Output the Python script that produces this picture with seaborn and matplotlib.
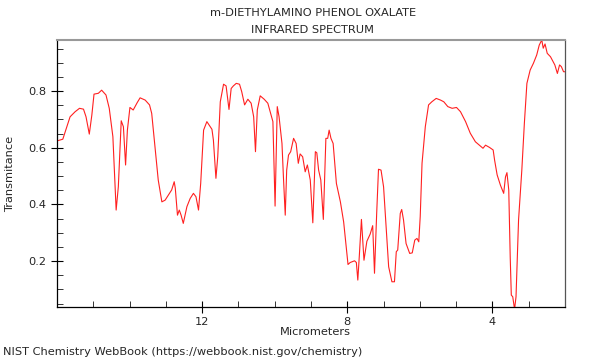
import seaborn as sns
import matplotlib.pyplot as plt
import pandas as pd

# IR spectrum values (micrometers, transmittance)
micrometers = [16.00, 15.84, 15.64, 15.50, 15.38, 15.27, 15.20, 15.11, 15.04, 14.98,
               14.86, 14.77, 14.65, 14.56, 14.46, 14.37, 14.31, 14.23, 14.17, 14.11,
               14.06, 13.99, 13.90, 13.79, 13.71, 13.57, 13.45, 13.39, 13.30, 13.21,
               13.11, 13.02, 12.93, 12.84, 12.77, 12.74, 12.68, 12.63, 12.58, 12.52,
               12.42, 12.33, 12.24, 12.17, 12.10, 12.04, 11.96, 11.87, 11.73, 11.69,
               11.62, 11.57, 11.50, 11.41, 11.34, 11.26, 11.20, 11.14, 11.06, 10.97,
               10.91, 10.83, 10.74, 10.65, 10.58, 10.53, 10.48, 10.40, 10.29, 10.19,
               10.10, 10.05, 9.99, 9.93, 9.88, 9.80, 9.76, 9.71, 9.67, 9.62,
               9.56, 9.48, 9.41, 9.35, 9.30, 9.23, 9.16, 9.10, 9.02, 8.95,
               8.88, 8.84, 8.79, 8.73, 8.66, 8.59, 8.54, 8.50, 8.45, 8.39,
               8.30, 8.19, 8.10, 8.04, 7.98, 7.92, 7.80, 7.75, 7.71, 7.67,
               7.61, 7.54, 7.46, 7.37, 7.30, 7.25, 7.19, 7.14, 7.07, 7.00,
               6.93, 6.86, 6.77, 6.70, 6.65, 6.61, 6.54, 6.50, 6.45, 6.38,
               6.28, 6.21, 6.14, 6.08, 6.03, 5.99, 5.94, 5.85, 5.76, 5.67,
               5.55, 5.43, 5.34, 5.23, 5.11, 4.99, 4.88, 4.74, 4.61, 4.47,
               4.33, 4.26, 4.19, 4.08, 3.98, 3.94, 3.87, 3.78, 3.69, 3.64,
               3.60, 3.55, 3.51, 3.48, 3.44, 3.39, 3.35, 3.28, 3.19, 3.12,
               3.05, 2.96, 2.87, 2.78, 2.71, 2.64, 2.60, 2.55, 2.49, 2.40,
               2.28, 2.21, 2.15, 2.10, 2.04, 2.00]
transmittance = [0.624, 0.630, 0.709, 0.727, 0.739, 0.736, 0.709, 0.648, 0.715, 0.789,
                 0.792, 0.803, 0.786, 0.739, 0.639, 0.380, 0.462, 0.695, 0.674, 0.539,
                 0.662, 0.742, 0.733, 0.759, 0.776, 0.768, 0.751, 0.721, 0.603, 0.486,
                 0.409, 0.415, 0.433, 0.451, 0.480, 0.457, 0.362, 0.380, 0.362, 0.333,
                 0.392, 0.421, 0.439, 0.427, 0.380, 0.474, 0.662, 0.692, 0.665, 0.627,
                 0.492, 0.568, 0.762, 0.824, 0.818, 0.735, 0.809, 0.818, 0.827, 0.824,
                 0.798, 0.751, 0.771, 0.757, 0.709, 0.586, 0.733, 0.783, 0.771, 0.757,
                 0.715, 0.692, 0.394, 0.745, 0.709, 0.615, 0.497, 0.362, 0.521, 0.574,
                 0.586, 0.633, 0.615, 0.545, 0.578, 0.568, 0.515, 0.539, 0.486, 0.335,
                 0.586, 0.582, 0.521, 0.486, 0.347, 0.633, 0.633, 0.662, 0.633, 0.615,
                 0.474, 0.409, 0.338, 0.262, 0.188, 0.195, 0.201, 0.195, 0.133, 0.215,
                 0.347, 0.203, 0.270, 0.295, 0.325, 0.157, 0.368, 0.524, 0.521, 0.462,
                 0.321, 0.180, 0.127, 0.127, 0.233, 0.239, 0.368, 0.382, 0.345, 0.262,
                 0.227, 0.229, 0.274, 0.280, 0.268, 0.357, 0.545, 0.674, 0.751, 0.762,
                 0.774, 0.768, 0.762, 0.745, 0.739, 0.742, 0.727, 0.692, 0.651, 0.621,
                 0.606, 0.598, 0.609, 0.601, 0.592, 0.556, 0.504, 0.468, 0.439, 0.497,
                 0.512, 0.451, 0.215, 0.080, 0.074, 0.030, 0.074, 0.345, 0.521, 0.686,
                 0.827, 0.874, 0.898, 0.927, 0.962, 0.980, 0.951, 0.966, 0.933, 0.921,
                 0.892, 0.862, 0.892, 0.886, 0.868, 0.868]

x_ticks = [4, 8, 12]
y_ticks = [0.2, 0.4, 0.6, 0.8]

df = pd.DataFrame({"um": micrometers, "T": transmittance})

sns.set_style("ticks")
plt.rcParams["font.family"] = ["DejaVu Sans"]

fig = plt.figure(figsize=(6, 3.6), dpi=100)
ax = fig.add_axes([57 / 600, 1 - 307 / 360, 508 / 600, 267 / 360])

sns.lineplot(data=df, x="um", y="T", sort=False, estimator=None,
             color="#ff2020", linewidth=0.8, ax=ax)

ax.set_xlim(16, 2)
ax.set_ylim(0.038, 0.98)
ax.set_xticks(x_ticks)
ax.set_xticks(range(3, 16), minor=True)
ax.set_yticks(y_ticks)
ax.set_yticks([i * 0.05 for i in range(1, 20)], minor=True)
ax.set_yticklabels([str(v) for v in y_ticks])
ax.tick_params(which="major", direction="inout", length=8, width=0.8, labelsize=8.2, color="black")
ax.tick_params(which="minor", direction="in", length=4, width=0.7, color="#333333")
ax.set_xlabel("")
ax.set_ylabel("")

for side in ["left", "bottom"]:
    ax.spines[side].set_color("black")
    ax.spines[side].set_linewidth(0.9)
ax.spines["top"].set_color("#999999")
ax.spines["top"].set_linewidth(1.5)
ax.spines["right"].set_color("#555555")
ax.spines["right"].set_linewidth(0.9)

fig.text(313 / 600, 1 - 13 / 360, "m-DIETHYLAMINO PHENOL OXALATE", ha="center", va="center", fontsize=8.2)
fig.text(313 / 600, 1 - 30 / 360, "INFRARED SPECTRUM", ha="center", va="center", fontsize=8.2)
fig.text(315 / 600, 1 - 332 / 360, "Micrometers", ha="center", va="center", fontsize=8.2)
fig.text(10 / 600, 1 - 174 / 360, "Transmitance", ha="center", va="center", rotation=90, fontsize=8.2)
fig.text(3 / 600, 1 - 352 / 360, "NIST Chemistry WebBook (https://webbook.nist.gov/chemistry)",
         ha="left", va="center", fontsize=8.2)

fig.savefig("out.png", dpi=100)
